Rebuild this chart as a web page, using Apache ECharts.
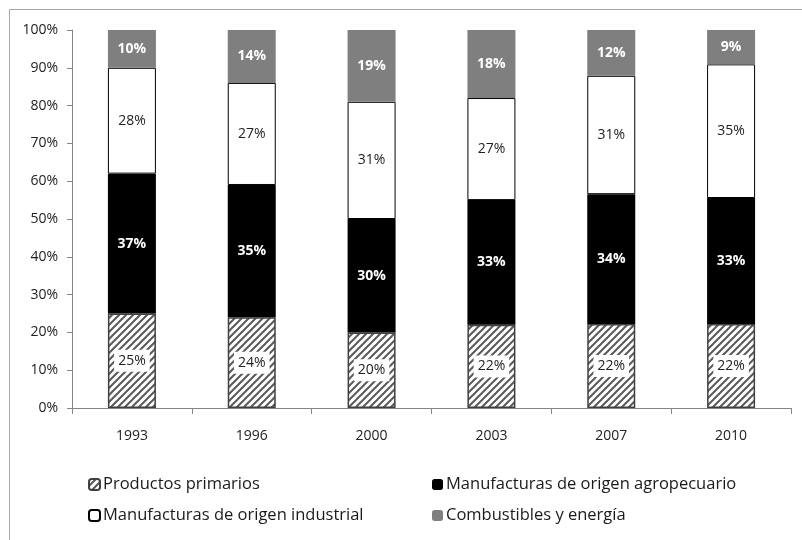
<!DOCTYPE html>
<html>
<head>
<meta charset="utf-8">
<script src="https://cdn.jsdelivr.net/npm/echarts@6/dist/echarts.min.js"></script>
<style>
  html, body { margin: 0; padding: 0; background: #fff; }
  #chart { width: 802px; height: 540px; }
</style>
</head>
<body>
<div id="chart"></div>
<script>
// Export structure by product group (% of total), by year
const years = ['1993', '1996', '2000', '2003', '2007', '2010'];
const productosPrimarios = [25, 24, 20, 22, 22, 22];
const moa = [37, 35, 30, 33, 34, 33];
const moi = [28, 27, 31, 27, 31, 35];
const combustibles = [10, 14, 19, 18, 12, 9];
const yTicks = ['0%', '10%', '20%', '30%', '40%', '50%', '60%', '70%', '80%', '90%', '100%'];

const seriesNames = [
  'Productos primarios',
  'Manufacturas de origen agropecuario',
  'Manufacturas de origen industrial',
  'Combustibles y energía'
];
const raw = [productosPrimarios, moa, moi, combustibles];

// 100% stacking: each segment is its share of the year's total
const totals = years.map((_, i) => raw.reduce((s, arr) => s + arr[i], 0));
const shares = raw.map(arr => arr.map((v, i) => v / totals[i] * 100));

// Diagonal hatch fill
function hatch() {
  const s = 7;
  const c = document.createElement('canvas');
  c.width = s; c.height = s;
  const g = c.getContext('2d');
  g.fillStyle = '#ffffff';
  g.fillRect(0, 0, s, s);
  g.strokeStyle = '#5a5a5a';
  g.lineWidth = 2;
  g.beginPath();
  g.moveTo(-1, s + 1); g.lineTo(s + 1, -1);
  g.moveTo(-1, 1); g.lineTo(1, -1);
  g.moveTo(s - 1, s + 1); g.lineTo(s + 1, s - 1);
  g.stroke();
  return c;
}
const hatchFill = { image: hatch(), repeat: 'repeat' };

const font = 'Open Sans';
const styles = [
  { color: hatchFill, borderColor: '#404040', borderWidth: 1.5 },
  { color: '#000000', borderColor: '#000000', borderWidth: 0 },
  { color: '#ffffff', borderColor: '#000000', borderWidth: 1 },
  { color: '#7f7f7f', borderColor: '#7f7f7f', borderWidth: 0 }
];
const labels = [
  { color: '#222', fontWeight: 'normal', backgroundColor: '#fff', padding: [4, 4] },
  { color: '#fff', fontWeight: 'bold' },
  { color: '#222', fontWeight: 'normal' },
  { color: '#fff', fontWeight: 'bold' }
];

const series = seriesNames.map((name, k) => ({
  name,
  type: 'bar',
  stack: 'total',
  barWidth: 48,
  data: shares[k],
  itemStyle: styles[k],
  emphasis: { disabled: true },
  label: Object.assign({
    show: true,
    position: 'inside',
    fontFamily: font,
    fontSize: 14,
    formatter: p => raw[k][p.dataIndex] + '%'
  }, labels[k])
}));

const legendText = { fontFamily: font, fontSize: 16.5, color: '#1a1a1a', padding: [0, 0, 0, -2] };

const chart = echarts.init(document.getElementById('chart'), null, { renderer: 'canvas' });
chart.setOption({
  animation: false,
  backgroundColor: '#ffffff',
  graphic: [
    { type: 'line', shape: { x1: 9.5, y1: 9.5, x2: 820, y2: 9.5 }, style: { stroke: '#a6a6a6', lineWidth: 1 } },
    { type: 'line', shape: { x1: 9.5, y1: 9.5, x2: 9.5, y2: 560 }, style: { stroke: '#a6a6a6', lineWidth: 1 } }
  ],
  grid: { left: 72, right: 11, top: 30, bottom: 132 },
  xAxis: {
    type: 'category',
    data: years,
    axisLine: { lineStyle: { color: '#868686', width: 1 } },
    axisTick: { show: true, length: 6, lineStyle: { color: '#868686' } },
    axisLabel: { fontFamily: font, fontSize: 14, color: '#222', margin: 21 }
  },
  yAxis: {
    type: 'value',
    min: 0,
    max: 100,
    interval: 10,
    splitLine: { show: false },
    axisLine: { show: true, lineStyle: { color: '#868686', width: 1 } },
    axisTick: { show: true, length: 5, inside: false, lineStyle: { color: '#868686' } },
    axisLabel: {
      fontFamily: font, fontSize: 14, color: '#222', margin: 14,
      formatter: v => yTicks[Math.round(v / 10)]
    }
  },
  legend: [
    {
      data: [seriesNames[0], seriesNames[2]],
      orient: 'vertical', left: 83, top: 471,
      itemWidth: 11, itemHeight: 11, itemGap: 14,
      textStyle: legendText, selectedMode: false
    },
    {
      data: [seriesNames[1], seriesNames[3]],
      orient: 'vertical', left: 427, top: 471,
      itemWidth: 11, itemHeight: 11, itemGap: 14,
      textStyle: legendText, selectedMode: false
    }
  ],
  series
});
</script>
</body>
</html>
